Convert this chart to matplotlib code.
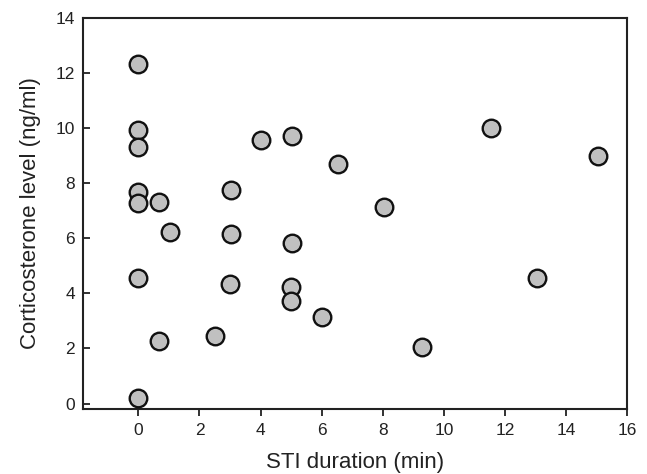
import matplotlib
matplotlib.use("Agg")
import matplotlib.pyplot as plt

sti_duration = [0, 0, 0, 0, 0, 0.69, 1.02, 3.03, 3.03, 4.02, 5.03, 5.03,
                0, 3.0, 5.0, 5.0, 6.01, 0.69, 2.52, 0,
                6.52, 8.03, 11.53, 15.05, 13.04, 9.28]
corticosterone = [12.33, 9.91, 9.31, 7.66, 7.27, 7.31, 6.24, 7.76, 6.16, 9.55, 9.71, 5.84,
                  4.57, 4.33, 4.22, 3.73, 3.15, 2.27, 2.46, 0.2,
                  8.68, 7.13, 9.99, 8.99, 4.54, 2.06]
x_ticks = [0, 2, 4, 6, 8, 10, 12, 14, 16]
y_ticks = [0, 2, 4, 6, 8, 10, 12, 14]

plt.rcParams['font.family'] = ['Liberation Sans', 'DejaVu Sans']

fig = plt.figure(figsize=(6.47, 4.74), dpi=100)
ax = fig.add_axes([0.1288, 0.1371, 0.9696 - 0.1288, 0.9627 - 0.1371])

ax.scatter(sti_duration, corticosterone, s=160, facecolor='#c0c0c0',
           edgecolor='#111111', linewidth=1.7, zorder=3)

ax.set_xlim(-1.8, 16)
ax.set_ylim(-0.2, 14)
ax.set_xticks(x_ticks)
ax.set_yticks(y_ticks)
ax.tick_params(axis='x', direction='out', length=5, width=1.3, labelsize=12.5, pad=5, colors='#222222')
ax.tick_params(axis='y', direction='in', length=5, width=1.3, labelsize=12.5, pad=6, colors='#222222')
for sp in ax.spines.values():
    sp.set_linewidth(1.5)
    sp.set_color('#222222')

ax.set_xlabel('STI duration (min)', fontsize=16, labelpad=10, color='#222222')
ax.set_ylabel('Corticosterone level (ng/ml)', fontsize=16, color='#222222')
ax.yaxis.set_label_coords(-0.078, 0.5)

fig.savefig('out.png', dpi=100)
